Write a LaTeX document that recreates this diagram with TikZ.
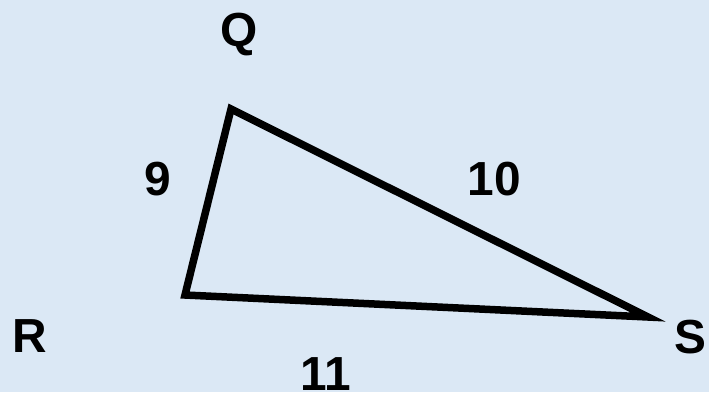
\documentclass[tikz,border=0pt]{standalone}
\usepackage{fontspec}
\setmainfont{Liberation Sans}
\definecolor{bgblue}{RGB}{219,232,245}

\begin{document}
\begin{tikzpicture}[x=1bp,y=-1bp,font=\fontsize{48}{52}\selectfont\bfseries]
    \tikzset{lbl/.style={inner sep=0pt, anchor=center}}
    % Background
    \fill[bgblue] (0,0) rectangle (709,392);
    \useasboundingbox (0,0) rectangle (709,392);
    % Vertices
    \coordinate (q) at (231,109);
    \coordinate (r) at (185,295);
    \coordinate (s) at (648,317);
    % Triangle
    \draw[line width=7.5bp, line join=miter] (q) -- (r) -- (s) -- cycle;
    % Vertex labels
    \node[lbl] (labq) at (239,35)  {Q};
    \node[lbl] (labr) at (30,336)  {R};
    \node[lbl] (labs) at (690,337) {S};
    % Side labels
    \node[lbl] (sidea) at (158,179) {9};
    \node[lbl] (sideb) at (494,179) {10};
    \node[lbl] (sidec) at (326,374) {11};
\end{tikzpicture}
\end{document}
